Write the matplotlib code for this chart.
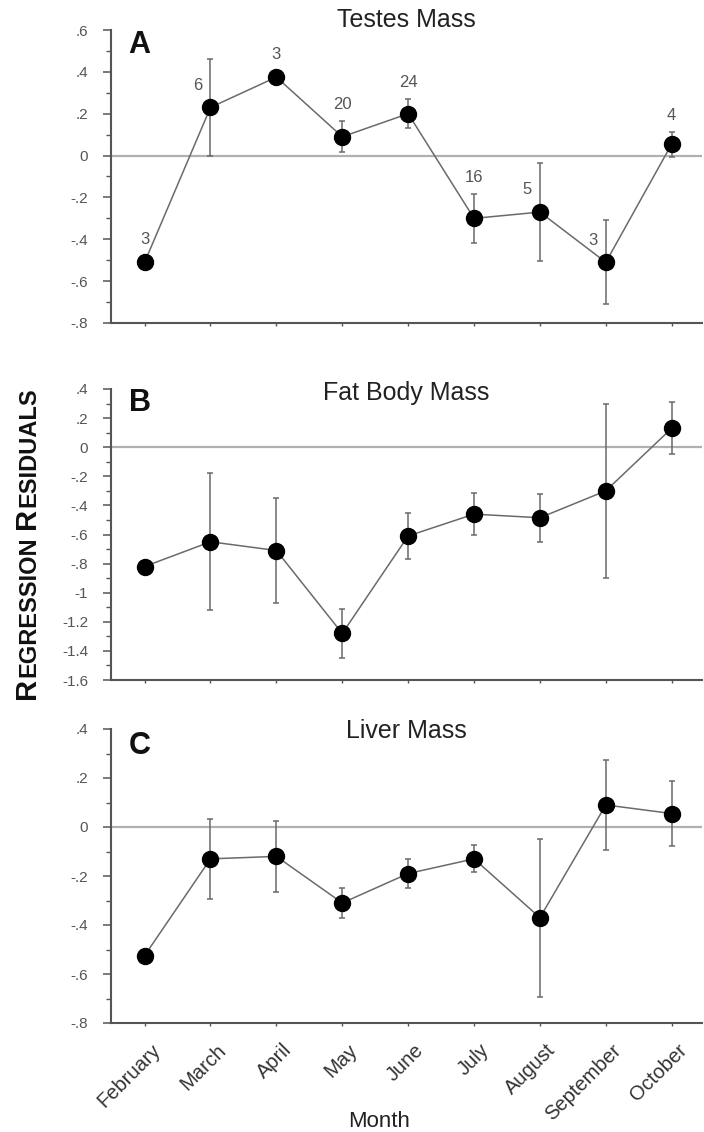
import numpy as np
import matplotlib
matplotlib.use('Agg')
import matplotlib.pyplot as plt
from matplotlib.ticker import MultipleLocator, FuncFormatter
import matplotlib.transforms as mtransforms

plt.rcParams['font.family'] = ['Liberation Sans', 'DejaVu Sans']

months = ['February', 'March', 'April', 'May', 'June', 'July', 'August',
          'September', 'October']

# Testes mass residuals (A)
testes = [-0.51, 0.23, 0.375, 0.09, 0.20, -0.30, -0.27, -0.51, 0.055]
testes_err = [0.0, 0.23, 0.0, 0.075, 0.07, 0.117, 0.235, 0.20, 0.06]
testes_n = ['3', '6', '3', '20', '24', '16', '5', '3', '4']
testes_n_side = ['up', 'left', 'up', 'up', 'up', 'up', 'left', 'left', 'up']

# Fat body mass residuals (B)
fat = [-0.82, -0.65, -0.71, -1.28, -0.61, -0.46, -0.485, -0.30, 0.13]
fat_err = [0.0, 0.47, 0.36, 0.17, 0.16, 0.145, 0.165, 0.60, 0.18]

# Liver mass residuals (C)
liver = [-0.525, -0.13, -0.12, -0.31, -0.19, -0.13, -0.37, 0.09, 0.055]
liver_err = [0.0, 0.163, 0.145, 0.06, 0.06, 0.055, 0.322, 0.185, 0.133]

panels = [
    ('A', 'Testes Mass', testes, testes_err, (-0.8, 0.6)),
    ('B', 'Fat Body Mass', fat, fat_err, (-1.6, 0.4)),
    ('C', 'Liver Mass', liver, liver_err, (-0.8, 0.4)),
]

W, H = 704, 1132
fig = plt.figure(figsize=(W / 100, H / 100), dpi=100)

# pixel boxes (top, bottom) of each panel
boxes = [(30, 323), (389, 680), (729, 1023)]
title_y = [1.034, 0.986, 0.993]
letter_y = [0.949, 0.952, 0.942]
left_px, right_px = 111, 702

tick_col = '#555555'
line_col = '#6a6a6a'


def fmt(v, pos):
    if abs(v) < 1e-9:
        return '0'
    s = ('%.1f' % v).rstrip('0').rstrip('.')
    s = s.replace('0.', '.')
    return s


x = np.arange(len(months))
axes = []
for k, (letter, title, vals, errs, ylim) in enumerate(panels):
    top, bot = boxes[k]
    ax = fig.add_axes([left_px / W, 1 - bot / H, (right_px - left_px) / W,
                       (bot - top) / H])
    axes.append(ax)
    ax.axhline(0, color='#b0b0b0', lw=1.6, zorder=1)
    ax.errorbar(x, vals, yerr=errs, fmt='none', ecolor=line_col, elinewidth=1.1,
                capsize=2.5, capthick=1.1, zorder=2)
    ax.plot(x, vals, '-', color=line_col, lw=1.1, zorder=3)
    ax.plot(x, vals, 'o', color='black', ms=11.5, zorder=4)
    ax.set_xlim(-0.51, 8.46)
    ax.set_ylim(*ylim)
    ax.yaxis.set_major_locator(MultipleLocator(0.2))
    ax.yaxis.set_minor_locator(MultipleLocator(0.1))
    ax.yaxis.set_major_formatter(FuncFormatter(fmt))
    ax.set_xticks(x)
    for s in ['top', 'right']:
        ax.spines[s].set_visible(False)
    for s in ['left', 'bottom']:
        ax.spines[s].set_color('#555555')
        ax.spines[s].set_linewidth(1.5)
    ax.tick_params(axis='y', which='major', direction='out', length=5.5,
                   width=1.1, color='#555555', labelsize=11,
                   labelcolor=tick_col, pad=11)
    ax.tick_params(axis='y', which='minor', direction='out', length=3.5,
                   width=1.0, color='#555555')
    ax.tick_params(axis='x', which='major', direction='out', length=2.5,
                   width=1.0, color='#555555')
    ax.text(0.5, title_y[k], title, transform=ax.transAxes, ha='center',
            va='center', fontsize=18, color='#222222')
    ax.text(0.03, letter_y[k], letter, transform=ax.transAxes, ha='left',
            va='center', fontsize=22, fontweight='bold', color='#111111')
    if k < 2:
        ax.set_xticklabels([])
    else:
        offset = mtransforms.ScaledTranslation(6 / 100, 0, fig.dpi_scale_trans)
        labels = ax.set_xticklabels(months, rotation=45, ha='right',
                                    rotation_mode='anchor', fontsize=14.5,
                                    color='#333333')
        ax.tick_params(axis='x', pad=10)
        for lab in labels:
            lab.set_transform(lab.get_transform() + offset)
        ax.set_xlabel('Month', fontsize=16, color='#222222', labelpad=-6)
        ax.xaxis.set_label_coords(0.453, -0.30)

# sample sizes on the testes panel
axA = axes[0]
for i, (v, e, n, side) in enumerate(zip(testes, testes_err, testes_n,
                                        testes_n_side)):
    if side == 'left':
        axA.annotate(n, (i, v), xytext=(-9, 16), textcoords='offset points',
                     ha='center', va='center', fontsize=12, color='#555555')
    else:
        yy = max(v + 0.11, v + e + 0.078)
        axA.annotate(n, (i, yy), ha='center', va='center', fontsize=12,
                     color='#555555')

# small-caps y label, built piece by piece (bottom to top)
pieces = [('R', 21, 1), ('EGRESSION', 17, 7), ('R', 21, 1), ('ESIDUALS', 17, 0)]
fig.canvas.draw()
renderer = fig.canvas.get_renderer()
texts = []
lengths = []
for s, size, gap in pieces:
    t = fig.text(0, 0, s, rotation=90, fontsize=size, fontweight='bold',
                 ha='left', va='baseline', rotation_mode='anchor',
                 color='#111111')
    bb = t.get_window_extent(renderer)
    texts.append(t)
    lengths.append(bb.height + gap)
total = sum(lengths)
xb = 35 / W
y0 = (H - 543) - total / 2
for t, L in zip(texts, lengths):
    t.set_position((xb, y0 / H))
    y0 += L

fig.savefig('out.png', dpi=100)
